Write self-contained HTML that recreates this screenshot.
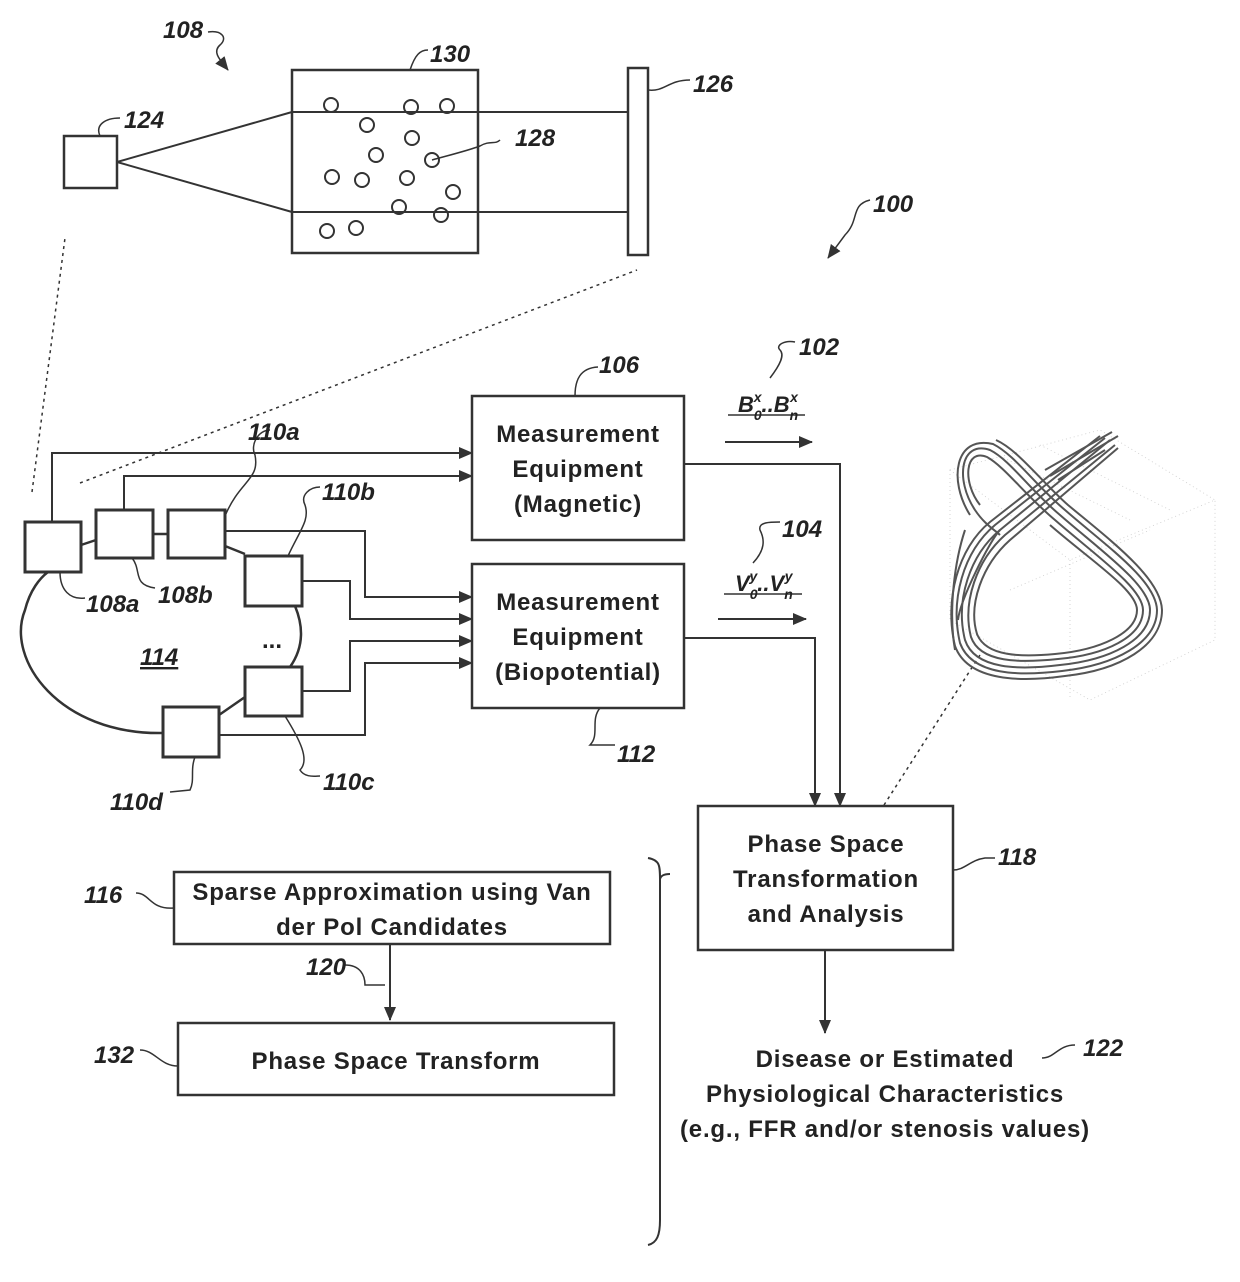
<!DOCTYPE html>
<html><head><meta charset="utf-8"><style>
html,body{margin:0;padding:0;background:#fff}
svg{display:block}
.l{font-family:"Liberation Sans",sans-serif;font-style:italic;font-weight:bold;font-size:24px;fill:#222}
.t{font-family:"Liberation Sans",sans-serif;font-size:24px;letter-spacing:0.8px;fill:#222;font-weight:bold;text-anchor:middle}
</style></head><body>
<svg width="1240" height="1282" viewBox="0 0 1240 1282" xmlns="http://www.w3.org/2000/svg">
<defs>
<marker id="a" markerWidth="14" markerHeight="12" refX="13" refY="6" orient="auto" markerUnits="userSpaceOnUse"><path d="M0,0 L14,6 L0,12 z" fill="#333"/></marker>
</defs>
<g fill="none" stroke="#333" stroke-width="2">
<rect x="64" y="136" width="53" height="52" stroke-width="2.5"/>
<rect x="292" y="70" width="186" height="183" stroke-width="2.5"/>
<rect x="628" y="68" width="20" height="187" stroke-width="2.5"/>
<path d="M117,162 L292,112 M117,162 L292,212 M292,112 H628 M292,212 H628"/>
<g stroke-width="2">
<circle cx="331" cy="105" r="7"/><circle cx="411" cy="107" r="7"/><circle cx="447" cy="106" r="7"/>
<circle cx="367" cy="125" r="7"/><circle cx="412" cy="138" r="7"/><circle cx="376" cy="155" r="7"/>
<circle cx="432" cy="160" r="7"/><circle cx="332" cy="177" r="7"/><circle cx="362" cy="180" r="7"/>
<circle cx="407" cy="178" r="7"/><circle cx="453" cy="192" r="7"/><circle cx="399" cy="207" r="7"/>
<circle cx="441" cy="215" r="7"/><circle cx="327" cy="231" r="7"/><circle cx="356" cy="228" r="7"/>
</g>
<path d="M432,160 C450,155 470,150 480,146 C490,140 495,145 500,140" stroke-width="1.5"/>
<path d="M208,32 C222,30 228,38 220,45 C212,52 220,60 228,70" stroke-width="1.5" marker-end="url(#a)"/>
<path d="M100,136 C95,125 105,118 120,118" stroke-width="1.5"/>
<path d="M648,90 C665,92 668,80 690,80" stroke-width="1.5"/>
<path d="M410,70 C415,55 420,50 428,50" stroke-width="1.5"/>
<path d="M870,200 C850,205 860,220 845,235 L828,258" stroke-width="1.5" marker-end="url(#a)"/>
<path d="M32,492 L65,238 M80,483 L637,270 M884,805 L980,655" stroke-dasharray="3,4" stroke-width="1.5"/>
<rect x="472" y="396" width="212" height="144" stroke-width="2.5"/>
<rect x="472" y="564" width="212" height="144" stroke-width="2.5"/>
<rect x="25" y="522" width="56" height="50" stroke-width="3"/>
<rect x="96" y="510" width="57" height="48" stroke-width="3"/>
<rect x="168" y="510" width="57" height="48" stroke-width="3"/>
<rect x="245" y="556" width="57" height="50" stroke-width="3"/>
<rect x="245" y="667" width="57" height="49" stroke-width="3"/>
<rect x="163" y="707" width="56" height="50" stroke-width="3"/>
<path d="M81,545 L96,540 M153,534 H168 M225,546 L245,554 M295,606 C305,630 302,650 290,667 M245,697 L219,715 M163,733 C60,735 5,660 25,610 C30,590 40,578 48,572" stroke-width="2.5"/>
<path d="M52,522 V453 H472" marker-end="url(#a)"/>
<path d="M124,510 V476 H472" marker-end="url(#a)"/>
<path d="M225,531 H365 V597 H472" marker-end="url(#a)"/>
<path d="M302,581 H350 V619 H472" marker-end="url(#a)"/>
<path d="M302,691 H350 V641 H472" marker-end="url(#a)"/>
<path d="M219,735 H365 V663 H472" marker-end="url(#a)"/>
<path d="M225,516 C240,480 260,480 255,455 C250,445 258,430 270,430" stroke-width="1.5"/>
<path d="M288,556 C300,530 310,520 305,505 C300,495 310,487 320,487" stroke-width="1.5"/>
<path d="M60,572 C60,590 70,600 85,598" stroke-width="1.5"/>
<path d="M132,558 C142,570 132,585 155,588" stroke-width="1.5"/>
<path d="M285,716 C300,740 310,760 300,770 C305,778 315,776 320,776" stroke-width="1.5"/>
<path d="M195,757 C190,770 195,780 190,790 L170,792" stroke-width="1.5"/>
<path d="M600,708 C590,720 600,735 590,745 L615,745" stroke-width="1.5"/>
<path d="M575,396 C575,380 580,368 598,367" stroke-width="1.5"/>
<path d="M770,378 C780,365 785,355 780,350 C775,345 785,340 795,342" stroke-width="1.5"/>
<path d="M753,563 C765,550 765,540 760,530 C758,522 770,522 780,522" stroke-width="1.5"/>
<path d="M684,464 H840 V806" marker-end="url(#a)"/>
<path d="M684,638 H815 V806" marker-end="url(#a)"/>
<path d="M725,442 H812" marker-end="url(#a)"/>
<path d="M718,619 H806" marker-end="url(#a)"/>
<path d="M728,415 H805 M724,594 H802" stroke-width="1.5"/>
<rect x="698" y="806" width="255" height="144" stroke-width="2.5"/>
<path d="M825,950 V1033" marker-end="url(#a)"/>
<path d="M953,870 C965,870 970,860 985,858 L995,858" stroke-width="1.5"/>
<path d="M1042,1058 C1055,1058 1058,1045 1075,1045" stroke-width="1.5"/>
<rect x="174" y="872" width="436" height="72" stroke-width="2.5"/>
<path d="M390,944 V1020" marker-end="url(#a)"/>
<rect x="178" y="1023" width="436" height="72" stroke-width="2.5"/>
<path d="M136,893 C150,893 150,910 174,908" stroke-width="1.5"/>
<path d="M345,965 C360,965 365,975 365,985 L385,985" stroke-width="1.5"/>
<path d="M140,1050 C155,1050 160,1066 178,1066" stroke-width="1.5"/>
<path d="M648,858 C660,860 660,866 660,880 V1220 C660,1235 657,1243 648,1245 M660,880 C660,876 664,874 670,874" stroke-width="2"/>
<g stroke="#ccc" stroke-width="0.8" stroke-dasharray="1,3">
<path d="M950,470 L1100,430 L1215,500 L1070,560 Z M950,470 V620 L1090,700 L1215,640 V500 M1070,560 V700 M1000,456 L1130,520 M1040,445 L1170,510 M1010,590 L1150,530"/>
</g>
<g stroke="#555" stroke-width="2">
<path d="M1110,440 L1000,530 C970,555 955,600 965,640 C975,670 1020,670 1060,665 C1110,660 1150,640 1150,610 C1150,585 1100,550 1060,515 C1030,490 1010,460 990,450 C960,440 955,480 975,510 C985,525 995,530 1000,535"/>
<path d="M1105,438 L995,525 C963,552 950,600 960,643 C972,676 1020,676 1062,671 C1115,665 1157,643 1157,610 C1156,580 1105,545 1065,510 C1035,485 1015,455 993,444 C955,435 948,480 970,515"/>
<path d="M1115,445 L1005,535 C977,560 962,602 971,637 C980,663 1020,663 1058,659 C1105,655 1143,637 1143,610 C1143,588 1095,555 1055,520 C1025,495 1005,467 987,457 C965,448 962,482 980,505"/>
<path d="M1100,436 L990,522 C958,548 944,600 955,646 C968,682 1022,682 1065,676 C1120,670 1162,646 1162,610 C1161,578 1110,540 1068,505 C1040,480 1018,450 996,440"/>
<path d="M1118,448 L1010,540 C982,565 968,605 977,634 C986,657 1022,657 1055,654 C1100,650 1137,633 1137,610 C1137,590 1090,560 1050,525"/>
<path d="M1045,470 L1112,432 M1050,476 L1118,436 M1058,480 L1105,450"/>
<path d="M965,530 C955,560 948,610 955,650 M1000,530 C990,540 960,600 958,620"/>
</g>
</g>
<text class="l" x="163" y="38">108</text>
<text class="l" x="430" y="62">130</text>
<text class="l" x="693" y="92">126</text>
<text class="l" x="124" y="128">124</text>
<text class="l" x="515" y="146">128</text>
<text class="l" x="873" y="212">100</text>
<text class="l" x="599" y="373">106</text>
<text class="l" x="799" y="355">102</text>
<text class="l" x="248" y="440">110a</text>
<text class="l" x="322" y="500">110b</text>
<text class="l" x="782" y="537">104</text>
<text class="l" x="86" y="612">108a</text>
<text class="l" x="158" y="603">108b</text>
<text class="l" x="140" y="665" text-decoration="underline">114</text>
<text class="l" x="110" y="810">110d</text>
<text class="l" x="323" y="790">110c</text>
<text class="l" x="617" y="762">112</text>
<text class="l" x="998" y="865">118</text>
<text class="l" x="84" y="903">116</text>
<text class="l" x="306" y="975">120</text>
<text class="l" x="94" y="1063">132</text>
<text class="l" x="1083" y="1056">122</text>
<text class="l" x="262" y="648" style="font-style:normal">...</text>
<text class="l" x="738" y="412" style="font-size:22px">B<tspan font-size="14" dy="8">0</tspan><tspan font-size="14" dx="-8" dy="-18">x</tspan><tspan dy="10">..B</tspan><tspan font-size="14" dy="8">n</tspan><tspan font-size="14" dx="-8" dy="-18">x</tspan></text>
<text class="l" x="735" y="591" style="font-size:22px">V<tspan font-size="14" dy="8">0</tspan><tspan font-size="14" dx="-8" dy="-18">y</tspan><tspan dy="10">..V</tspan><tspan font-size="14" dy="8">n</tspan><tspan font-size="14" dx="-8" dy="-18">y</tspan></text>
<text class="t" x="578" y="442">Measurement</text>
<text class="t" x="578" y="477">Equipment</text>
<text class="t" x="578" y="512">(Magnetic)</text>
<text class="t" x="578" y="610">Measurement</text>
<text class="t" x="578" y="645">Equipment</text>
<text class="t" x="578" y="680">(Biopotential)</text>
<text class="t" x="826" y="852">Phase Space</text>
<text class="t" x="826" y="887">Transformation</text>
<text class="t" x="826" y="922">and Analysis</text>
<text class="t" x="392" y="900">Sparse Approximation using Van</text>
<text class="t" x="392" y="935">der Pol Candidates</text>
<text class="t" x="396" y="1069">Phase Space Transform</text>
<text class="t" x="885" y="1067">Disease or Estimated</text>
<text class="t" x="885" y="1102">Physiological Characteristics</text>
<text class="t" x="885" y="1137">(e.g., FFR and/or stenosis values)</text>
</svg>
</body></html>
